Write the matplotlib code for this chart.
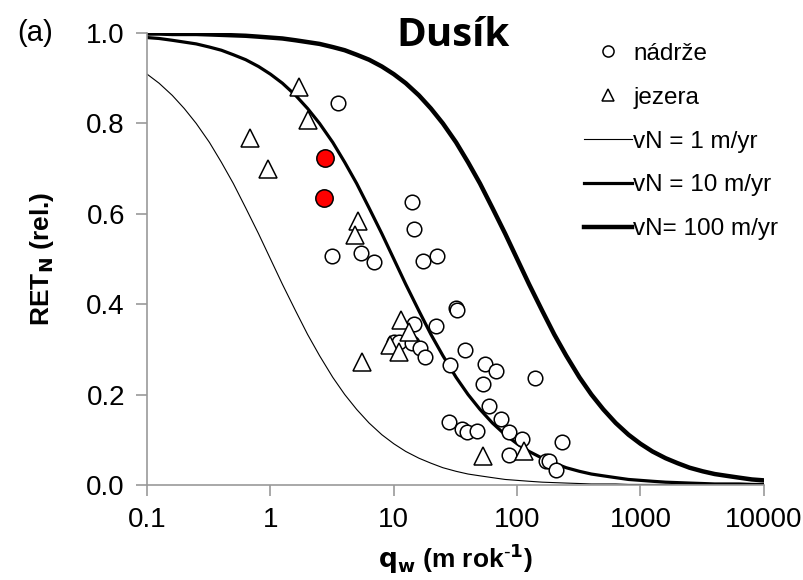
import matplotlib
matplotlib.use("Agg")
import matplotlib.pyplot as plt

# q grid (m/yr), 10 steps per decade
mant = [1, 1.25, 1.6, 2, 2.5, 3.2, 4, 5, 6.3, 8]
q_grid = [m * d for d in [0.1, 1, 10, 100, 1000] for m in mant] + [10000]

ret_vn1 = [0.909, 0.889, 0.862, 0.833, 0.800, 0.758, 0.714, 0.667, 0.613, 0.556,
           0.500, 0.444, 0.385, 0.333, 0.286, 0.238, 0.200, 0.167, 0.137, 0.111,
           0.091, 0.074, 0.059, 0.048, 0.038, 0.030, 0.024, 0.020, 0.016, 0.012,
           0.010, 0.008, 0.006, 0.005, 0.004, 0.003, 0.002, 0.002, 0.002, 0.001,
           0.001, 0.001, 0.001, 0.000, 0.000, 0.000, 0.000, 0.000, 0.000, 0.000,
           0.000]
ret_vn10 = [0.990, 0.988, 0.984, 0.980, 0.976, 0.969, 0.962, 0.952, 0.941, 0.926,
            0.909, 0.889, 0.862, 0.833, 0.800, 0.758, 0.714, 0.667, 0.613, 0.556,
            0.500, 0.444, 0.385, 0.333, 0.286, 0.238, 0.200, 0.167, 0.137, 0.111,
            0.091, 0.074, 0.059, 0.048, 0.038, 0.030, 0.024, 0.020, 0.016, 0.012,
            0.010, 0.008, 0.006, 0.005, 0.004, 0.003, 0.002, 0.002, 0.002, 0.001,
            0.001]
ret_vn100 = [0.999, 0.999, 0.998, 0.998, 0.998, 0.997, 0.996, 0.995, 0.994, 0.992,
             0.990, 0.988, 0.984, 0.980, 0.976, 0.969, 0.962, 0.952, 0.941, 0.926,
             0.909, 0.889, 0.862, 0.833, 0.800, 0.758, 0.714, 0.667, 0.613, 0.556,
             0.500, 0.444, 0.385, 0.333, 0.286, 0.238, 0.200, 0.167, 0.137, 0.111,
             0.091, 0.074, 0.059, 0.048, 0.038, 0.030, 0.024, 0.020, 0.016, 0.012,
             0.010]

# nádrže (reservoirs)
nadrze_q = [3.5, 14.0, 14.6, 3.16, 5.4, 6.9, 17.4, 22.6, 32.1, 32.7, 14.5, 21.8,
            10.1, 11.0, 14.1, 16.4, 18.0, 37.9, 28.6, 55.0, 67.4, 52.6, 140,
            59.6, 74.1, 85.4, 110, 27.9, 35.8, 39.1, 47.0, 86.5, 233, 171, 182, 206]
nadrze_ret = [0.845, 0.627, 0.566, 0.507, 0.513, 0.494, 0.496, 0.507, 0.391, 0.386,
              0.356, 0.352, 0.317, 0.316, 0.313, 0.302, 0.283, 0.299, 0.265, 0.267,
              0.252, 0.223, 0.237, 0.175, 0.145, 0.118, 0.101, 0.140, 0.123, 0.117,
              0.120, 0.066, 0.094, 0.053, 0.052, 0.032]

# jezera (lakes)
jezera_q = [1.70, 2.02, 0.68, 0.96, 5.13, 4.82, 5.56, 11.5, 13.2, 9.25, 11.1, 53.3, 114]
jezera_ret = [0.881, 0.808, 0.767, 0.700, 0.583, 0.553, 0.273, 0.365, 0.339, 0.310,
              0.295, 0.063, 0.074]

# highlighted points
red_q = [2.79, 2.70]
red_ret = [0.723, 0.634]

plt.rcParams['font.family'] = ['Liberation Sans', 'DejaVu Sans']

fig = plt.figure(figsize=(8.04, 5.8), dpi=100)
ax = fig.add_axes([0.183, 0.164, 0.767, 0.779])

l1, = ax.plot(q_grid, ret_vn1, color='black', lw=0.8, zorder=2)
l2, = ax.plot(q_grid, ret_vn10, color='black', lw=2.3, zorder=2)
l3, = ax.plot(q_grid, ret_vn100, color='black', lw=3.2, zorder=2)

ax.plot(nadrze_q, nadrze_ret, 'o', ms=10.5, mfc='white', mec='black', mew=1.1, zorder=3)
ax.plot(jezera_q, jezera_ret, '^', ms=13, mfc='white', mec='black', mew=1.1, zorder=3)
ax.plot(red_q, red_ret, 'o', ms=12.5, mfc='#ff0000', mec='black', mew=1.1, zorder=4)

ax.set_xscale('log')
ax.set_xlim(0.1, 10000)
ax.set_ylim(0, 1.0)
ax.set_xticks([0.1, 1, 10, 100, 1000, 10000])
ax.set_xticklabels(['0.1', '1', '10', '100', '1000', '10000'])
ax.xaxis.set_minor_locator(matplotlib.ticker.NullLocator())
ax.set_yticks([0, 0.2, 0.4, 0.6, 0.8, 1.0])
ax.set_yticklabels(['0.0', '0.2', '0.4', '0.6', '0.8', '1.0'])

for s in ['top', 'right']:
    ax.spines[s].set_visible(False)
for s in ['left', 'bottom']:
    ax.spines[s].set_color('#999999')
    ax.spines[s].set_linewidth(1.2)
ax.tick_params(axis='both', colors='#999999', labelcolor='black', labelsize=20,
               length=8, width=1.2, direction='out')
ax.tick_params(axis='x', pad=8)
ax.tick_params(axis='y', pad=8)

ax.set_xlabel(r'$\mathbf{q_w}$ (m rok$^{\mathbf{\text{-}1}}$)', fontsize=19, fontweight='bold',
              labelpad=6)
ax.set_ylabel(r'RET$_\mathbf{N}$ (rel.)', fontsize=19, fontweight='bold', labelpad=22)

fig.text(0.563, 0.938, 'Dusík', fontsize=29, fontweight='bold',
         family=['Open Sans', 'DejaVu Sans'], ha='center', va='center')
fig.text(0.022, 0.943, '(a)', fontsize=21, ha='left', va='center')

p1l, = ax.plot([], [], 'o', ms=8, mfc='white', mec='black', mew=1.1)
p2l, = ax.plot([], [], '^', ms=9, mfc='white', mec='black', mew=1.1)
leg = ax.legend([p1l, p2l, l1, l2, l3],
                ['nádrže', 'jezera', 'vN = 1 m/yr', 'vN = 10 m/yr', 'vN= 100 m/yr'],
                loc='upper left', bbox_to_anchor=(0.692, 1.0), frameon=False,
                fontsize=17.5, handlelength=2.0, handletextpad=0.05,
                labelspacing=0.9, borderaxespad=0)

fig.savefig('out.png', dpi=100)
